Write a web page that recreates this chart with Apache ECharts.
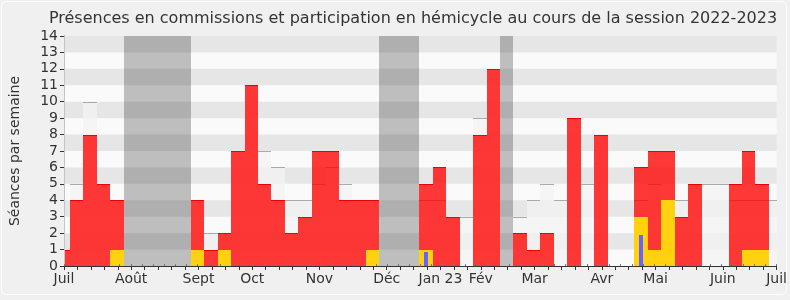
<!DOCTYPE html>
<html><head><meta charset="utf-8">
<script src="https://cdn.jsdelivr.net/npm/echarts@6/dist/echarts.min.js"></script>
<style>html,body{margin:0;padding:0;background:#f0f0f0}#c{width:790px;height:300px}</style>
</head><body><div id="c"></div>
<script>
// Semaines (lundi de début), première semaine partielle
const premierLundi = '2022-06-27';
const debutAxe = '2022-07-01';
const nbSemaines = 54;
// Présences en commission (rouge)
const presences = [1,4,8,5,4, 0,0,0,0,0, 4,1,2,7,11, 5,4,2,3,7, 7,4,4,4,0, 0,0,5,6,3, 0,8,12,0,2, 1,2,0,9,0, 8,0,0,6,7, 7,3,5,0,0, 5,7,5,0];
// Participation en hémicycle (jaune)
const hemicycle = [0,0,0,0,1, 0,0,0,0,0, 1,0,1,0,0, 0,0,0,0,0, 0,0,0,1,0, 0,0,1,0,0, 0,0,0,0,0, 0,0,0,0,0, 0,0,0,3,1, 4,0,0,0,0, 0,1,1,0];
// Interventions (bleu)
const interventions = [0,0,0,0,0, 0,0,0,0,0, 0,0,0,0,0, 0,0,0,0,0, 0,0,0,0,0, 0,0,0.85,0,0, 0,0,0,0,0, 0,0,0,0,0, 0,0,0,1.9,0, 0,0,0,0,0, 0,0,0,0];
// Présence médiane (gris clair)
const mediane = [1,5,10,5,4, 0,0,0,0,0, 4,2,2,7,11, 7,6,4,4,5, 6,5,4,4,0, 0,0,4,4,3, 3,9,12,0,3, 4,5,4,9,5, 8,0,0,4,5, 4,4,5,5,5, 4,4,4,4];
// Semaines de vacances parlementaires (indices)
const vacances = [5,6,7,8,9,24,25,26,33];
// Étiquettes des mois et leur position (en semaines depuis le début de l'axe)
const moisLabels = ['Juil','Août','Sept','Oct','Nov','Déc','Jan 23','Fév','Mar','Avr','Mai','Juin','Juil'];
const moisTicks = [0,5,10,14,19,24,28,31,35,40,44,49,53];
const titre = 'Présences en commissions et participation en hémicycle au cours de la session 2022-2023';
const nomAxeY = 'Séances par semaine';

const DAY = 86400000;
const t0 = Date.parse(debutAxe + 'T00:00:00Z');
const m0 = Date.parse(premierLundi + 'T00:00:00Z');
const debutSem = [];
for (let i = 0; i < nbSemaines; i++) debutSem.push((m0 + i * 7 * DAY - t0) / (7 * DAY));

function mk(arr) { return arr.map((v, i) => [i, debutSem[i], v]); }

function barRender(fill, topLine, frac) {
  return function (params, api) {
    const xs = api.value(1), v = api.value(2);
    if (!v) return null;
    const cs = params.coordSys;
    let a = xs + (1 - frac) / 2, b = a + frac;
    let x0 = Math.round(api.coord([a, 0])[0]), x1 = Math.round(api.coord([b, 0])[0]);
    const y0 = Math.round(api.coord([a, 0])[1]), yt = Math.round(api.coord([a, v])[1]);
    x0 = Math.max(x0, Math.round(cs.x)); x1 = Math.min(x1, Math.round(cs.x + cs.width));
    if (x1 <= x0) return null;
    const children = [{ type: 'rect', shape: { x: x0, y: yt, width: x1 - x0, height: y0 - yt }, style: { fill: fill } }];
    if (topLine) children.push({ type: 'line', shape: { x1: x0, y1: yt + 0.5, x2: x1, y2: yt + 0.5 }, style: { stroke: topLine, lineWidth: 1 } });
    return { type: 'group', children: children };
  };
}

const chart = echarts.init(document.getElementById('c'), null, { renderer: 'canvas' });
const font = 'DejaVu Sans';
chart.setOption({
  animation: false,
  backgroundColor: '#f0f0f0',
  textStyle: { fontFamily: font },
  grid: { left: 61, right: 10, top: 36, bottom: 34, show: true, backgroundColor: '#fafafa', borderWidth: 0 },
  xAxis: [{
    type: 'value', min: 0, max: 53, interval: 1, position: 'bottom', z: 7,
    axisLine: { show: true, onZero: false, lineStyle: { color: '#333', width: 1 } },
    axisTick: { show: true, length: 4, lineStyle: { color: '#333' } },
    splitLine: { show: false },
    axisLabel: { show: true, showMinLabel: true, showMaxLabel: true, color: '#333', fontSize: 14, fontFamily: font, margin: 6,
      formatter: function (val) { const k = moisTicks.indexOf(Math.round(val)); return k >= 0 ? moisLabels[k] : ''; } }
  }, {
    type: 'value', min: 0, max: 64, interval: 1, position: 'top', z: 7,
    axisLine: { show: false },
    axisTick: { show: true, length: 2, lineStyle: { color: '#777' } },
    splitLine: { show: false }, axisLabel: { show: false }
  }],
  yAxis: [{
    type: 'value', min: 0, max: 14, interval: 1, z: 2,
    name: nomAxeY, nameLocation: 'middle', nameRotate: 90, nameGap: 42,
    nameTextStyle: { color: '#333', fontSize: 14, fontFamily: font },
    axisLine: { show: true, lineStyle: { color: '#333' } },
    axisTick: { show: true, length: 4, lineStyle: { color: '#333' } },
    axisLabel: { color: '#333', fontSize: 14, fontFamily: font, margin: 6 },
    splitLine: { show: false },
    splitArea: { show: true, areaStyle: { color: ['rgba(0,0,0,0)', 'rgba(0,0,0,0.08)'] } }
  }, {
    type: 'value', min: 0, max: 14, interval: 1, position: 'right', z: 7,
    axisLine: { show: true, lineStyle: { color: '#c4c4c4' } },
    axisTick: { show: false }, axisLabel: { show: false }, splitLine: { show: false }
  }],
  graphic: [
    { type: 'text', x: 413, y: 19, z: 10, style: { text: titre, font: '16px "DejaVu Sans"', fill: '#333', textAlign: 'center', textVerticalAlign: 'middle' } },
    { type: 'rect', z: 10, shape: { x: 1.5, y: 1.5, width: 785, height: 293, r: 5 }, style: { fill: 'none', stroke: '#ffffff', lineWidth: 1 } }
  ],
  series: [
    { type: 'custom', z: 1, silent: true, data: vacances.map(i => [i, debutSem[i], 14]),
      renderItem: barRender('#bebebe', null, 1) },
    { type: 'custom', z: 3, silent: true, data: mk(mediane),
      renderItem: barRender('rgba(243,243,243,0.75)', '#aaaaaa', 1) },
    { type: 'custom', z: 4, silent: true, data: mk(presences),
      renderItem: barRender('rgba(255,0,0,0.78)', '#ee0000', 1) },
    { type: 'custom', z: 5, silent: true, data: mk(hemicycle),
      renderItem: barRender('#ffd10f', null, 1) },
    { type: 'custom', z: 6, silent: true, data: mk(interventions),
      renderItem: barRender('#6464ff', null, 0.32) }
  ]
});
</script></body></html>
